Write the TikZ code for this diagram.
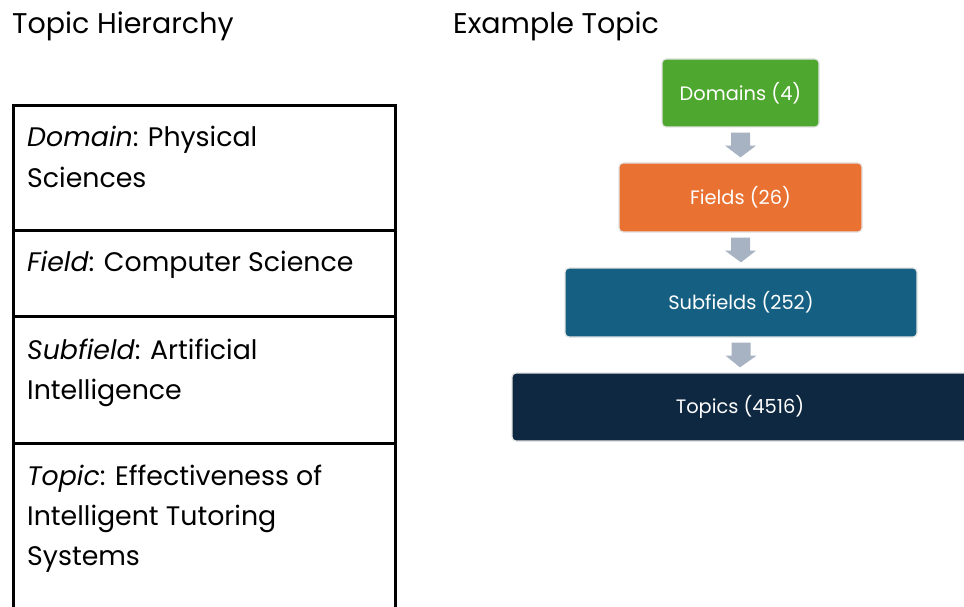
\documentclass[tikz,border=0pt]{standalone}
\usepackage{fontspec}
\setmainfont{Poppins}[Ligatures=NoCommon]
\usetikzlibrary{calc}
\definecolor{cgreen}{HTML}{4EA72E}
\definecolor{corange}{HTML}{E97132}
\definecolor{cblue}{HTML}{156082}
\definecolor{cnavy}{HTML}{0E2841}
\definecolor{carrow}{HTML}{A7B3C2}
\definecolor{cedge}{HTML}{E4E4E4}
\tikzset{
  levelbox/.style={rectangle, rounded corners=4pt, draw=cedge, line width=1.2pt,
    inner sep=0pt, text=white, font=\fontsize{19.4}{23}\selectfont},
  title/.style={anchor=base west, inner sep=0pt, font=\fontsize{28.5}{34}\selectfont},
  celltext/.style={anchor=base west, inner sep=0pt, font=\fontsize{26.8}{32}\selectfont},
  rule/.style={line width=3pt, black},
}
\newcommand{\hierarrow}[2]{%
  \fill[carrow] ($(#1.south)+(-9.5,5)$) -- ++(19,0) -- ++(0,13) -- ++(6,0)
    -- ($(#2.north)+(0,-5)$) -- ($(#1.south)+(-15.5,18)$) -- ++(6,0) -- cycle;}
\begin{document}
\begin{tikzpicture}[x=1pt,y=-1pt]
\useasboundingbox (0,0) rectangle (964,607);
\begin{scope}
\clip (0,0) rectangle (964,607);
% titles
\node[title] (t1) at (12,34) {Topic Hierarchy};
\node[title] (t2) at (453,34) {Example Topic};
% table
\draw[rule] (13.5,620) -- (13.5,105.5) -- (395.5,105.5) -- (395.5,620);
\draw[rule] (13.5,230.5) -- (395.5,230.5);
\draw[rule] (13.5,316.5) -- (395.5,316.5);
\draw[rule] (13.5,443.5) -- (395.5,443.5);
\node[celltext] (r1a) at (27,147) {\textit{Domain}: Physical};
\node[celltext] (r1b) at (27,187) {Sciences};
\node[celltext] (r2a) at (27,271) {\textit{Field}: Computer Science};
\node[celltext] (r3a) at (27,359) {\textit{Subfield}: Artificial};
\node[celltext] (r3b) at (27,399) {Intelligence};
\node[celltext] (r4a) at (27,485) {\textit{Topic}: Effectiveness of};
\node[celltext] (r4b) at (27,525) {Intelligent Tutoring};
\node[celltext] (r4c) at (27,565) {Systems};
% hierarchy boxes
\node[levelbox, fill=cgreen, minimum width=157pt, minimum height=68pt] (dom) at (740.5,93) {Domains (4)};
\node[levelbox, fill=corange, minimum width=243pt, minimum height=69pt] (fld) at (740.5,197.5) {Fields (26)};
\node[levelbox, fill=cblue, minimum width=352pt, minimum height=69pt] (sub) at (741,302.5) {Subfields (252)};
\node[levelbox, fill=cnavy, minimum width=456pt, minimum height=68pt] (top) at (740,407) {Topics (4516)};
\hierarrow{dom}{fld}
\hierarrow{fld}{sub}
\hierarrow{sub}{top}
\end{scope}
\end{tikzpicture}
\end{document}
